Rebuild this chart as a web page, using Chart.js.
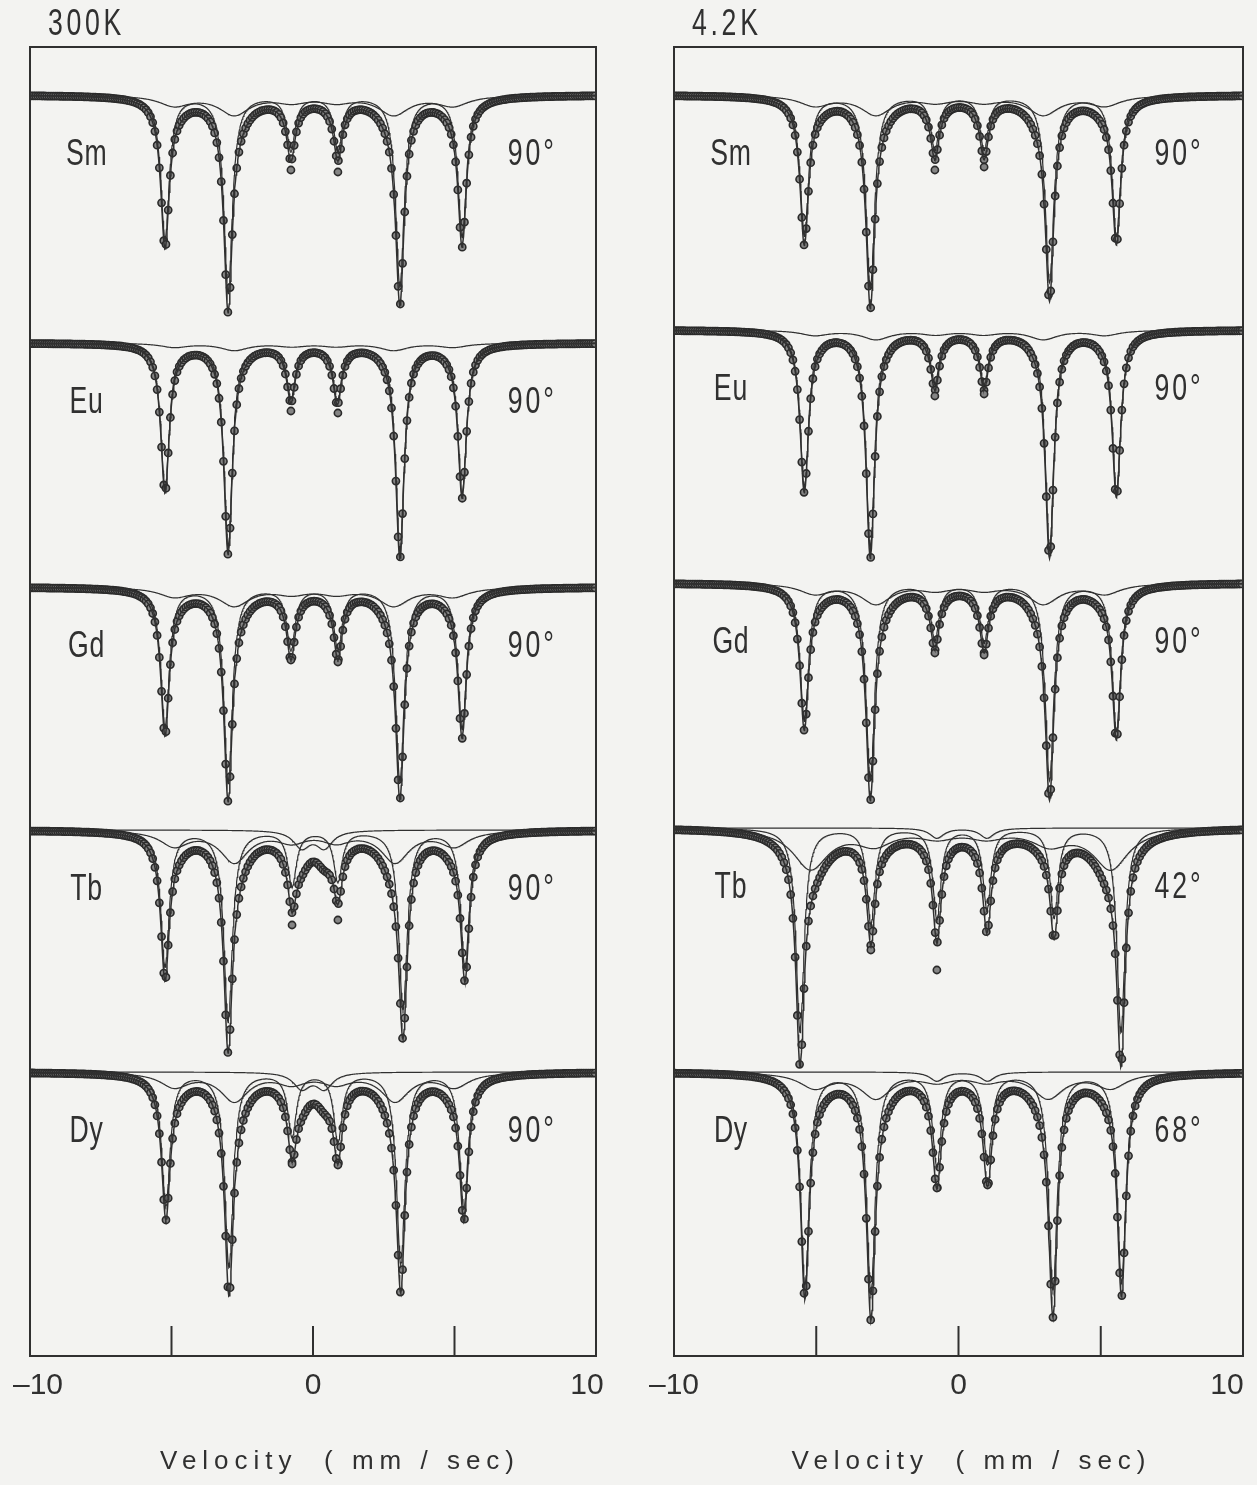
<!DOCTYPE html>
<html>
<head>
<meta charset="utf-8">
<script src="https://cdn.jsdelivr.net/npm/chart.js@4.4.0/dist/chart.umd.min.js"></script>
<style>
    html, body { margin: 0; padding: 0; background: #f3f3f1; }
    #wrap { position: relative; width: 1257px; height: 1485px; }
    canvas { position: absolute; top: 0; }
    #chart300 { left: 0; }
    #chart4 { left: 628px; }
</style>
</head>
<body>
<div id="wrap">
    <canvas id="chart300" width="628" height="1485"></canvas>
    <canvas id="chart4" width="629" height="1485"></canvas>
</div>
<script>
// ---- data (velocity in mm/sec, absorption in % of offset scale) ----
const panelTitles = ['300K', '4.2K'];
const sampleNames = ['Sm', 'Eu', 'Gd', 'Tb', 'Dy'];
const angles300K = ['90°', '90°', '90°', '90°', '90°'];
const angles4K = ['90°', '90°', '90°', '42°', '68°'];
const tickValues = [-10, -5, 0, 5, 10];
const tickLabels = ['–10', '', '0', '', '10'];
const innerTicks = [-5, 0, 5];
const axisTitle = 'Velocity  ( mm / sec)';

// baseline (off-resonance) level of each spectrum in the stack
const baseline300K = [126.1, 101.3, 76.9, 52.6, 28.4];
const baseline4K = [126.1, 102.6, 77.3, 52.8, 28.4];

// sharp six-line component
const sharpPos300K = [
    [-5.23, -3.0, -0.78, 0.88, 3.07, 5.27],
    [-5.23, -3.0, -0.78, 0.86, 3.07, 5.27],
    [-5.23, -3.0, -0.78, 0.88, 3.07, 5.27],
    [-5.23, -3.0, -0.74, 0.88, 3.18, 5.37],
    [-5.2, -2.97, -0.74, 0.88, 3.1, 5.33]
];
const sharpDepth300K = [
    [14.3, 19.7, 5.4, 5.4, 19.0, 14.1],
    [14.5, 20.3, 5.3, 5.5, 20.7, 15.0],
    [13.9, 19.5, 6.1, 6.1, 19.3, 14.1],
    [13.6, 19.1, 5.5, 5.0, 17.9, 13.7],
    [13.3, 19.4, 6.3, 6.8, 19.1, 13.5]
];
const sharpWidth300K = [0.18, 0.18, 0.18, 0.18, 0.18];

const sharpPos4K = [
    [-5.42, -3.1, -0.83, 0.9, 3.2, 5.55],
    [-5.42, -3.1, -0.83, 0.9, 3.2, 5.55],
    [-5.42, -3.1, -0.83, 0.9, 3.2, 5.55],
    [-5.57, -3.08, -0.76, 1.0, 3.36, 5.71],
    [-5.4, -3.08, -0.76, 1.02, 3.32, 5.73]
];
const sharpDepth4K = [
    [14.0, 19.3, 5.3, 5.3, 18.6, 14.0],
    [15.7, 21.8, 5.2, 5.2, 21.8, 16.2],
    [13.7, 19.6, 5.5, 5.8, 19.6, 14.7],
    [20.4, 9.5, 9.0, 8.0, 8.9, 20.4],
    [21.2, 22.0, 9.2, 9.0, 21.7, 21.0]
];
const sharpWidth4K = [0.18, 0.18, 0.18, 0.17, 0.18];

// broad six-line component
const broadPos300K = [
    [-4.9, -2.78, -0.75, 0.82, 2.85, 4.95],
    [-4.9, -2.78, -0.75, 0.82, 2.85, 4.95],
    [-4.9, -2.78, -0.75, 0.82, 2.85, 4.95],
    [-4.9, -2.78, -0.75, 0.82, 2.9, 5.0],
    [-4.9, -2.78, -0.75, 0.82, 2.9, 5.0]
];
const broadDepth300K = [
    [1.0, 1.9, 0.6, 0.6, 1.9, 1.0],
    [0.4, 0.7, 0.3, 0.3, 0.7, 0.4],
    [0.9, 1.8, 0.6, 0.6, 1.8, 0.9],
    [1.5, 3.1, 1.0, 1.0, 3.1, 1.5],
    [1.4, 2.8, 1.0, 1.0, 2.8, 1.4]
];
const broadWidth300K = [0.65, 0.6, 0.65, 0.6, 0.6];

const broadPos4K = [
    [-5.05, -2.9, -0.8, 0.88, 2.98, 5.15],
    [-5.05, -2.9, -0.8, 0.88, 2.98, 5.15],
    [-5.05, -2.9, -0.8, 0.88, 2.98, 5.15],
    [-5.2, -2.95, -0.75, 0.98, 3.2, 5.35],
    [-5.05, -2.9, -0.75, 0.98, 3.15, 5.35]
];
const broadDepth4K = [
    [1.0, 1.9, 0.6, 0.6, 1.9, 1.0],
    [0.5, 0.9, 0.4, 0.4, 0.9, 0.5],
    [1.0, 2.0, 0.6, 0.6, 2.0, 1.0],
    [4.0, 1.5, 0.8, 0.8, 1.5, 4.0],
    [1.5, 2.5, 0.8, 0.8, 2.5, 1.5]
];
const broadWidth4K = [0.65, 0.6, 0.65, 0.75, 0.65];

// third (central) component, Tb and Dy only
const extraPos300K = [null, null, null, [-0.4, 0.4], [-0.4, 0.4]];
const extraDepth300K = [null, null, null, [1.7, 1.7], [1.6, 1.6]];
const extraWidth300K = [0, 0, 0, 0.35, 0.35];
const extraPos4K = [null, null, null, [-0.76, 1.0], [-0.76, 1.02]];
const extraDepth4K = [null, null, null, [1.0, 1.0], [0.9, 0.9]];
const extraWidth4K = [0, 0, 0, 0.3, 0.3];

// data circles that sit well below the fitted curve
const lowPoints300K = [
    [[-0.78, 7.5], [0.88, 7.7]],
    [[-0.78, 6.8], [0.88, 7.0]],
    [[-0.78, 7.3], [0.88, 7.5]],
    [[-0.74, 9.5], [0.88, 9.0]],
    [[-0.74, 9.2], [0.88, 9.3]]
];
const lowPoints4K = [
    [[-0.83, 7.5], [0.9, 7.2]],
    [[-0.83, 6.6], [0.9, 6.4]],
    [[-0.83, 7.0], [0.9, 7.2]],
    [[-0.76, 14.2], [-3.08, 12.2]],
    [[-0.76, 11.6], [1.02, 11.3]]
];

const channelCount = 256;
const ink = '#303030';

// Lorentzian line sum of one component
function absorption(v, pos, depth, hw) {
    let s = 0;
    for (let i = 0; i < pos.length; i++) {
        const d = (v - pos[i]) / hw;
        s += depth[i] / (1 + d * d);
    }
    return s;
}

function buildDatasets(p) {
    const datasets = [];
    for (let s = 0; s < p.baselines.length; s++) {
        const comps = [{ pos: p.sharpPos[s], dep: p.sharpDepth[s], hw: p.sharpWidth[s] },
                       { pos: p.broadPos[s], dep: p.broadDepth[s], hw: p.broadWidth[s] }];
        if (p.extraPos[s]) comps.push({ pos: p.extraPos[s], dep: p.extraDepth[s], hw: p.extraWidth[s] });
        const base = p.baselines[s];
        const total = v => comps.reduce((a, c) => a + absorption(v, c.pos, c.dep, c.hw), 0);

        // velocity grid for the curves: fine steps plus every line centre
        let grid = [];
        for (let i = 0; i <= 1000; i++) grid.push(-10 + i * 0.02);
        comps.forEach(c => c.pos.forEach(x => grid.push(x)));
        grid.sort((a, b) => a - b);

        // measured channels
        const pts = [];
        for (let k = 0; k < channelCount; k++) {
            const v = -10 + (k + 0.5) * 20 / channelCount;
            pts.push({ x: v, y: base - total(v) });
        }
        p.lowPoints[s].forEach(([v, d]) => pts.push({ x: v, y: base - d }));
        datasets.push({
            type: 'scatter', data: pts, order: 3,
            pointRadius: 3.6, pointBorderWidth: 1.6,
            pointBorderColor: '#2a2a2a', pointBackgroundColor: '#858585'
        });

        datasets.push({
            type: 'line', data: grid.map(v => ({ x: v, y: base - total(v) })), order: 1,
            borderColor: ink, borderWidth: 1.5, pointRadius: 0, tension: 0
        });
        comps.forEach(c => {
            datasets.push({
                type: 'line', data: grid.map(v => ({ x: v, y: base - absorption(v, c.pos, c.dep, c.hw) })), order: 2,
                borderColor: ink, borderWidth: 1.2, pointRadius: 0, tension: 0
            });
        });
    }
    return datasets;
}

// condensed lettering, as in the figure
function narrowText(ctx, text, x, y, spacing) {
    ctx.save();
    ctx.translate(x, y);
    ctx.scale(0.74, 1);
    ctx.letterSpacing = spacing + 'px';
    ctx.fillText(text, 0, 0);
    ctx.restore();
}

const panelText = {
    id: 'panelText',
    afterDraw(chart, args, o) {
        const { ctx, chartArea: a, scales: { x, y } } = chart;
        ctx.save();
        // frame and inner ticks
        ctx.strokeStyle = ink;
        ctx.lineWidth = 2;
        ctx.strokeRect(a.left, a.top, a.right - a.left, a.bottom - a.top);
        innerTicks.forEach(t => {
            const px = x.getPixelForValue(t);
            ctx.beginPath();
            ctx.moveTo(px, a.bottom);
            ctx.lineTo(px, a.bottom - 30);
            ctx.stroke();
        });
        ctx.fillStyle = ink;
        ctx.textBaseline = 'middle';

        // tick labels
        ctx.font = '30px "Liberation Sans", Arial, sans-serif';
        ctx.textAlign = 'center';
        tickValues.forEach((v, i) => {
            if (!tickLabels[i]) return;
            let px = x.getPixelForValue(v);
            if (i === tickValues.length - 1) px -= o.lastTickShift;
            if (i === 0) px += o.firstTickShift;
            ctx.fillText(tickLabels[i], px, 1386);
        });

        // panel title, sample names, angles
        ctx.font = '36px "Liberation Sans", Arial, sans-serif';
        ctx.textAlign = 'left';
        narrowText(ctx, o.title, a.left + 18, a.top - 22, 5);
        ctx.textAlign = 'center';
        o.names.forEach((n, i) => {
            const py = y.getPixelForValue(o.baselines[i] - 6.0);
            narrowText(ctx, n, x.getPixelForValue(-8.0), py, 1);
            narrowText(ctx, o.angles[i], x.getPixelForValue(7.75), py, 4);
        });

        // axis title
        ctx.font = '26px "Liberation Sans", Arial, sans-serif';
        ctx.letterSpacing = '6px';
        ctx.fillText(axisTitle, (a.left + a.right) / 2 + o.titleShift, 1462);
        ctx.restore();
    }
};

function makeChart(id, p, pad) {
    new Chart(document.getElementById(id), {
        data: { datasets: buildDatasets(p) },
        plugins: [panelText],
        options: {
            responsive: false,
            animation: false,
            events: [],
            layout: { autoPadding: false, padding: pad },
            plugins: {
                legend: { display: false },
                tooltip: { enabled: false },
                panelText: {
                    title: p.title, names: sampleNames, angles: p.angles, baselines: p.baselines,
                    titleShift: p.titleShift, lastTickShift: p.lastTickShift, firstTickShift: p.firstTickShift
                }
            },
            scales: {
                x: {
                    type: 'linear', min: -10, max: 10,
                    afterFit: s => { s.height = 129; },
                    grid: { display: false, drawTicks: false },
                    border: { display: false },
                    ticks: { display: false, stepSize: 5 }
                },
                y: { type: 'linear', min: 0, max: 130.9, display: false }
            }
        }
    });
}

makeChart('chart300', {
    title: panelTitles[0], angles: angles300K, baselines: baseline300K,
    sharpPos: sharpPos300K, sharpDepth: sharpDepth300K, sharpWidth: sharpWidth300K,
    broadPos: broadPos300K, broadDepth: broadDepth300K, broadWidth: broadWidth300K,
    extraPos: extraPos300K, extraDepth: extraDepth300K, extraWidth: extraWidth300K,
    lowPoints: lowPoints300K, titleShift: 27, lastTickShift: 9, firstTickShift: 8
}, { left: 30, right: 32, top: 47, bottom: 0 });

makeChart('chart4', {
    title: panelTitles[1], angles: angles4K, baselines: baseline4K,
    sharpPos: sharpPos4K, sharpDepth: sharpDepth4K, sharpWidth: sharpWidth4K,
    broadPos: broadPos4K, broadDepth: broadDepth4K, broadWidth: broadWidth4K,
    extraPos: extraPos4K, extraDepth: extraDepth4K, extraWidth: extraWidth4K,
    lowPoints: lowPoints4K, titleShift: 13, lastTickShift: 16, firstTickShift: 0
}, { left: 46, right: 14, top: 47, bottom: 0 });
</script>
</body>
</html>
